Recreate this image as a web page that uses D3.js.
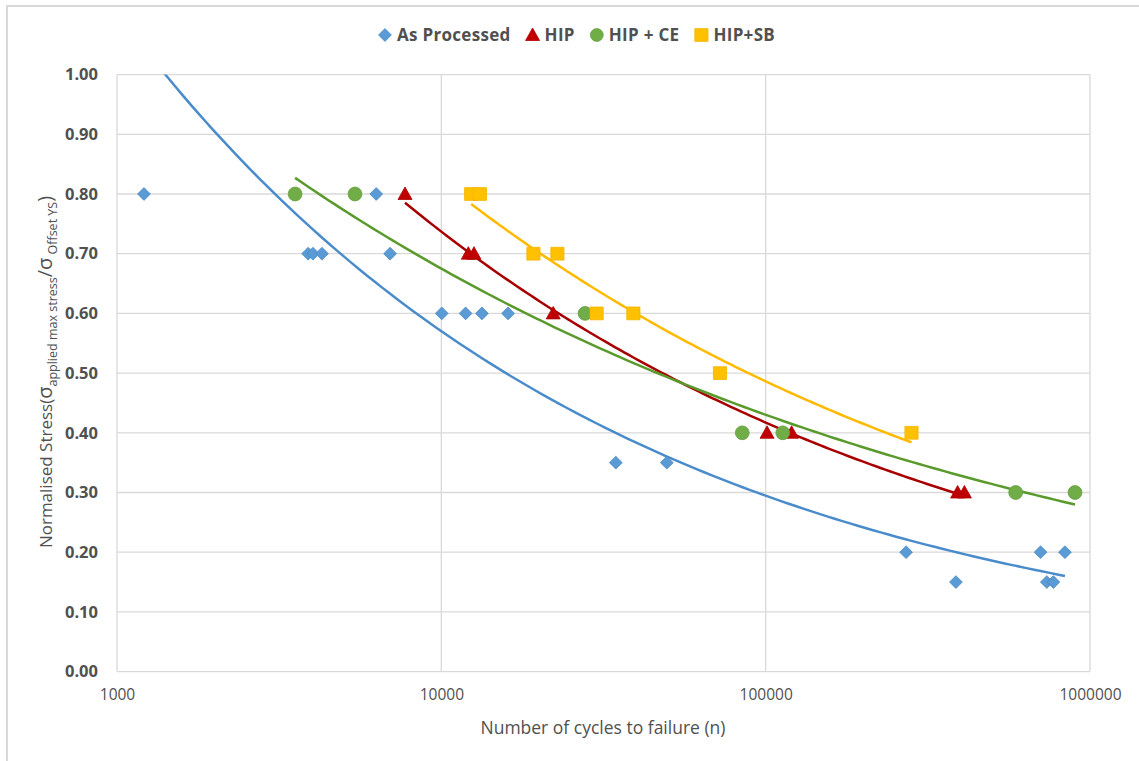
<!DOCTYPE html>
<html>
<head>
<meta charset="utf-8">
<script src="https://cdn.jsdelivr.net/npm/d3@7/dist/d3.min.js"></script>
<style>
  html, body { margin: 0; padding: 0; background: #fff; }
  svg { display: block; }
</style>
</head>
<body>
<svg id="chart" width="1139" height="761"></svg>
<script>
// S-N fatigue data: cycles to failure vs normalised stress
const seriesNames = ["As Processed", "HIP", "HIP + CE", "HIP+SB"];

const asProcessedCycles = [1211, 3884, 4019, 4285, 6298, 6950, 10030, 11880, 13340, 16060,
                           34510, 49570, 271000, 704000, 837000, 386000, 736000, 771000];
const asProcessedStress = [0.80, 0.70, 0.70, 0.70, 0.80, 0.70, 0.60, 0.60, 0.60, 0.60,
                           0.35, 0.35, 0.20, 0.20, 0.20, 0.15, 0.15, 0.15];

const hipCycles = [7727, 12110, 12610, 22130, 101000, 120200, 390700, 410000];
const hipStress = [0.80, 0.70, 0.70, 0.60, 0.40, 0.40, 0.30, 0.30];

const hipCeCycles = [3541, 5416, 27740, 84700, 112900, 590000, 899000];
const hipCeStress = [0.80, 0.80, 0.60, 0.40, 0.40, 0.30, 0.30];

const hipSbCycles = [12360, 13150, 19230, 22800, 30120, 39090, 72300, 281600];
const hipSbStress = [0.80, 0.80, 0.70, 0.70, 0.60, 0.60, 0.50, 0.40];

const xTickValues = [1000, 10000, 100000, 1000000];
const yTickValues = [0, 0.1, 0.2, 0.3, 0.4, 0.5, 0.6, 0.7, 0.8, 0.9, 1.0];

const styles = [
  { marker: "diamond",  fill: "#5B9BD5", stroke: "#4A89C4", line: "#4A8CCB" },
  { marker: "triangle", fill: "#C00000", stroke: "#B00000", line: "#A80000" },
  { marker: "circle",   fill: "#70AD47", stroke: "#639C3D", line: "#5A9A2C" },
  { marker: "square",   fill: "#FFC000", stroke: "#F2B600", line: "#FFBA00" }
];

const series = [
  [asProcessedCycles, asProcessedStress],
  [hipCycles, hipStress],
  [hipCeCycles, hipCeStress],
  [hipSbCycles, hipSbStress]
].map((d, i) => ({
  name: seriesNames[i],
  style: styles[i],
  points: d[0].map((c, j) => ({ x: c, y: d[1][j] }))
}));

const svg = d3.select("#chart");
const W = 1139, H = 761;
const plot = { left: 117, right: 1090, top: 74.6, bottom: 671.6 };

const x = d3.scaleLog().domain([1000, 1000000]).range([plot.left, plot.right]);
const y = d3.scaleLinear().domain([0, 1]).range([plot.bottom, plot.top]);

const FONT = "'Open Sans', 'Liberation Sans', sans-serif";
const TEXT = "#505050";
const GRID = "#D9D9D9";

// outer chart frame
svg.append("rect")
  .attr("x", 7).attr("y", 6).attr("width", W + 10).attr("height", H + 10)
  .attr("fill", "none").attr("stroke", GRID).attr("stroke-width", 2);

// gridlines
const grid = svg.append("g");
grid.selectAll("line.h").data(yTickValues).join("line")
  .attr("x1", plot.left).attr("x2", plot.right)
  .attr("y1", d => y(d)).attr("y2", d => y(d))
  .attr("stroke", GRID).attr("stroke-width", 1.3);
grid.selectAll("line.v").data(xTickValues).join("line")
  .attr("y1", plot.top).attr("y2", plot.bottom)
  .attr("x1", d => x(d)).attr("x2", d => x(d))
  .attr("stroke", GRID).attr("stroke-width", 1.3);

// axes (labels only, lines hidden)
const yAxis = svg.append("g")
  .attr("transform", `translate(${plot.left},0)`)
  .call(d3.axisLeft(y).tickValues(yTickValues).tickFormat(d3.format(".2f")).tickSize(0).tickPadding(19));
yAxis.select(".domain").remove();
yAxis.selectAll("text")
  .attr("font-family", FONT).attr("font-size", 16.5).attr("font-weight", 700)
  .attr("fill", TEXT);

const xAxis = svg.append("g")
  .attr("transform", `translate(0,${plot.bottom})`)
  .call(d3.axisBottom(x).tickValues(xTickValues).tickFormat(d3.format("d")).tickSize(0).tickPadding(17));
xAxis.select(".domain").remove();
xAxis.selectAll("text")
  .attr("font-family", FONT).attr("font-size", 15.5).attr("fill", TEXT);

// axis titles
svg.append("text")
  .attr("x", 603).attr("y", 734)
  .attr("text-anchor", "middle")
  .attr("font-family", FONT).attr("font-size", 17.5).attr("fill", TEXT)
  .text("Number of cycles to failure (n)");

const yTitle = svg.append("text")
  .attr("transform", "translate(52,372) rotate(-90)")
  .attr("text-anchor", "middle")
  .attr("font-family", FONT).attr("font-size", 17).attr("fill", TEXT);
yTitle.append("tspan").text("Normalised Stress(");
yTitle.append("tspan").attr("font-size", 20).text("\u03C3");
yTitle.append("tspan").attr("font-size", 12.5).attr("dy", 5).text("applied max stress");
yTitle.append("tspan").attr("dy", -5).attr("font-size", 20).text("/\u03C3");
yTitle.append("tspan").attr("font-size", 12.5).attr("dy", 5).text(" Offset YS");
yTitle.append("tspan").attr("dy", -5).attr("font-size", 20).text(")");

// clip for trendlines
svg.append("clipPath").attr("id", "plotClip")
  .append("rect")
  .attr("x", plot.left).attr("y", plot.top)
  .attr("width", plot.right - plot.left).attr("height", plot.bottom - plot.top);

// power-law trendline: least squares fit of log(stress) on log(cycles)
function powerFit(points) {
  const lx = points.map(p => Math.log(p.x)), ly = points.map(p => Math.log(p.y));
  const mx = d3.mean(lx), my = d3.mean(ly);
  const b = d3.sum(lx, (v, i) => (v - mx) * (ly[i] - my)) / d3.sum(lx, v => (v - mx) ** 2);
  const a = Math.exp(my - b * mx);
  return { a, b };
}

const line = d3.line().x(d => x(d.x)).y(d => y(d.y));
const trend = svg.append("g").attr("clip-path", "url(#plotClip)");
series.forEach(s => {
  const { a, b } = powerFit(s.points);
  const [lo, hi] = d3.extent(s.points, p => p.x);
  const samples = d3.range(0, 121).map(k => {
    const cx = Math.exp(Math.log(lo) + (Math.log(hi) - Math.log(lo)) * k / 120);
    return { x: cx, y: a * Math.pow(cx, b) };
  });
  trend.append("path").datum(samples)
    .attr("d", line).attr("fill", "none")
    .attr("stroke", s.style.line).attr("stroke-width", 2.5);
});

// marker shapes
function markerPath(kind) {
  switch (kind) {
    case "diamond":  return "M0,-6.4L6.4,0L0,6.4L-6.4,0Z";
    case "triangle": return "M0,-7L7,5.5L-7,5.5Z";
    case "circle":   return d3.symbol(d3.symbolCircle, 150)();
    case "square":   return "M-6.6,-6.4H6.6V6.4H-6.6Z";
  }
}

const marks = svg.append("g");
series.forEach(s => {
  marks.append("g").selectAll("path").data(s.points).join("path")
    .attr("transform", d => `translate(${x(d.x)},${y(d.y)})`)
    .attr("d", markerPath(s.style.marker))
    .attr("fill", s.style.fill)
    .attr("stroke", s.style.stroke).attr("stroke-width", 0.8);
});

// legend
const legend = svg.append("g").attr("transform", "translate(0,35)");
const items = [];
series.forEach(s => {
  const g = legend.append("g");
  g.append("path").attr("d", markerPath(s.style.marker))
    .attr("transform", s.style.marker === "circle" ? "scale(0.93)" : null)
    .attr("fill", s.style.fill).attr("stroke", s.style.stroke).attr("stroke-width", 0.8);
  const t = g.append("text").attr("x", 12).attr("dy", "0.36em")
    .attr("font-family", FONT).attr("font-size", 17).attr("font-weight", 700)
    .attr("letter-spacing", 0.3)
    .attr("fill", TEXT).text(s.name);
  const w = 12 + t.node().getComputedTextLength();
  items.push({ g, w });
});
const gap = 22;
const total = d3.sum(items, d => d.w) + gap * (items.length - 1) + 6;
let cursor = 577 - total / 2 + 6;
items.forEach(it => {
  it.g.attr("transform", `translate(${cursor},0)`);
  cursor += it.w + gap;
});
</script>
</body>
</html>
